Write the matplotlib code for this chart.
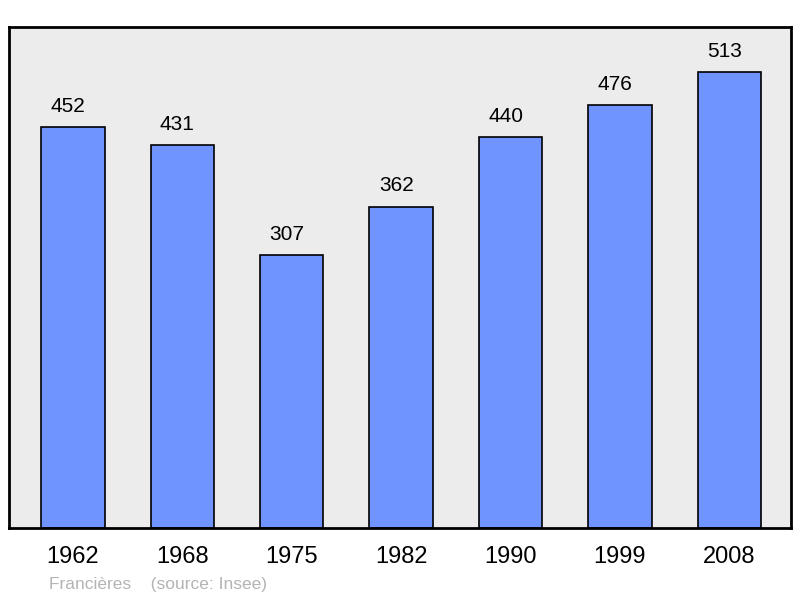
import matplotlib.pyplot as plt

plt.rcParams["font.family"] = ["Liberation Sans", "DejaVu Sans"]

years = ["1962", "1968", "1975", "1982", "1990", "1999", "2008"]
population = [452, 431, 307, 362, 440, 476, 513]

fig = plt.figure(figsize=(8, 5.98), dpi=100)
ax = fig.add_axes([0.011, 0.117, 0.978, 0.838])
ax.set_facecolor("#ececec")

x = list(range(len(years)))
ax.bar(x, population, width=0.58, color="#7094ff", edgecolor="black",
       linewidth=1.2, zorder=2)

# value labels sit a bit left of the bar centre, like the original
for xi, v in zip(x, population):
    ax.annotate(str(v), (xi, v), xytext=(-3.5, 8), textcoords="offset points",
                ha="center", va="bottom", fontsize=15)

ax.set_xlim(-0.585, len(years) - 1 + 0.565)
ax.set_ylim(0, max(population) * 1.1)
ax.set_yticks([])
ax.set_xticks(x)
ax.set_xticklabels(years, fontsize=17)
ax.tick_params(axis="x", length=0, pad=13)
for s in ax.spines.values():
    s.set_linewidth(2)

fig.text(0.061, 0.01, "Francières    (source: Insee)", color="#b4b4b4",
         fontsize=12.5, ha="left", va="bottom")

fig.savefig("out.png", dpi=100)
